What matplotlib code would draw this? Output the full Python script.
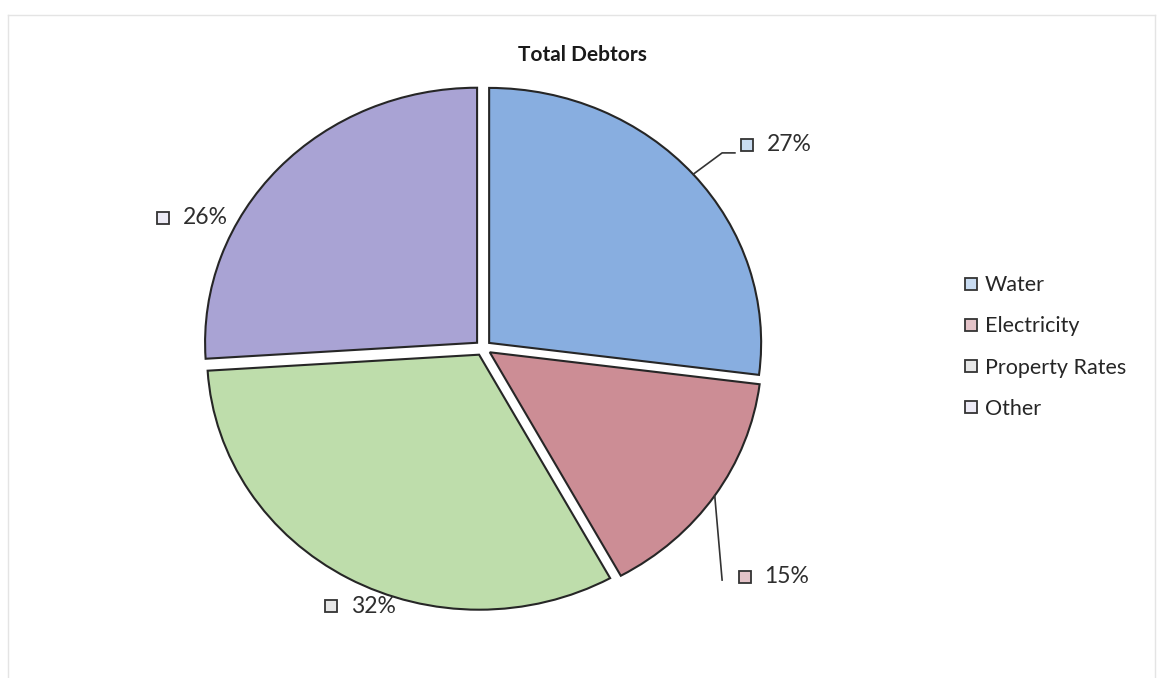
import numpy as np
import matplotlib.pyplot as plt
from matplotlib.lines import Line2D

# Debtor categories and their share of the total (%)
categories = ['Water', 'Electricity', 'Property Rates', 'Other']
shares = [27, 15, 32, 26]
colors = ['#88AEE0', '#CC8D95', '#BEDDAB', '#A9A3D4']
key_colors = ['#C9DCF2', '#E4C3C8', '#E6E6E6', '#ECEAF5']

plt.rcParams['font.family'] = ['Lato', 'DejaVu Sans']

fig = plt.figure(figsize=(11.6, 6.78), dpi=100)
ax = fig.add_axes([0.1233, 0.0166, 0.5862, 0.9403])

explode = 0.03
wedges, _ = ax.pie(shares, colors=colors, startangle=90, counterclock=False,
                   explode=[explode] * len(shares),
                   wedgeprops=dict(edgecolor='#262626', linewidth=1.5))
# slightly wider than tall, as in the spreadsheet chart
ax.set_aspect('auto')
ax.set_xlim(-1.25, 1.25)
ax.set_ylim(-1.25, 1.25)

# label layout: (key marker x, y) and leader line knee points
label_pos = [(0.97, 0.796), (0.963, -0.898), (-0.559, -1.012), (-1.176, 0.51)]
leaders = [[(0.879, 0.765), (0.926, 0.765)], [(0.879, -0.91)], None, None]

for i, w in enumerate(wedges):
    mid = np.deg2rad((w.theta1 + w.theta2) / 2)
    mx, my = label_pos[i]
    ax.plot(mx, my, marker='s', markersize=9, mfc=key_colors[i], mec='#333333',
            mew=1.3, clip_on=False)
    ax.text(mx + 0.072, my, f'{shares[i]}%', ha='left', va='center',
            fontsize=16.5, color='#2e2e2e', clip_on=False)
    if leaders[i]:
        start = ((1 + explode) * np.cos(mid), (1 + explode) * np.sin(mid))
        pts = [start] + leaders[i]
        ax.plot([p[0] for p in pts], [p[1] for p in pts], color='#333333',
                lw=1.2, clip_on=False)

fig.text(0.502, 1 - 55 / 678, 'Total Debtors', ha='center', va='center',
         fontsize=15, fontweight='bold', color='#1a1a1a')

handles = [Line2D([], [], marker='s', linestyle='none', markersize=9,
                  mfc=key_colors[i], mec='#333333', mew=1.3)
           for i in range(len(categories))]
fig.legend(handles, categories, loc='upper left',
           bbox_to_anchor=(944 / 1160, 1 - 256 / 678), frameon=False,
           fontsize=15.5, labelspacing=0.98, handlelength=0.7,
           handletextpad=0.3, labelcolor='#262626')

# faint outer frame of the chart area
frame_kw = dict(color='#e4e4e4', lw=1.0, transform=fig.transFigure)
fig.add_artist(Line2D([8 / 1160, 1155 / 1160], [1 - 15 / 678] * 2, **frame_kw))
fig.add_artist(Line2D([8 / 1160] * 2, [0, 1 - 15 / 678], **frame_kw))
fig.add_artist(Line2D([1155 / 1160] * 2, [0, 1 - 15 / 678], **frame_kw))

fig.savefig('out.png', dpi=100, facecolor='white')
